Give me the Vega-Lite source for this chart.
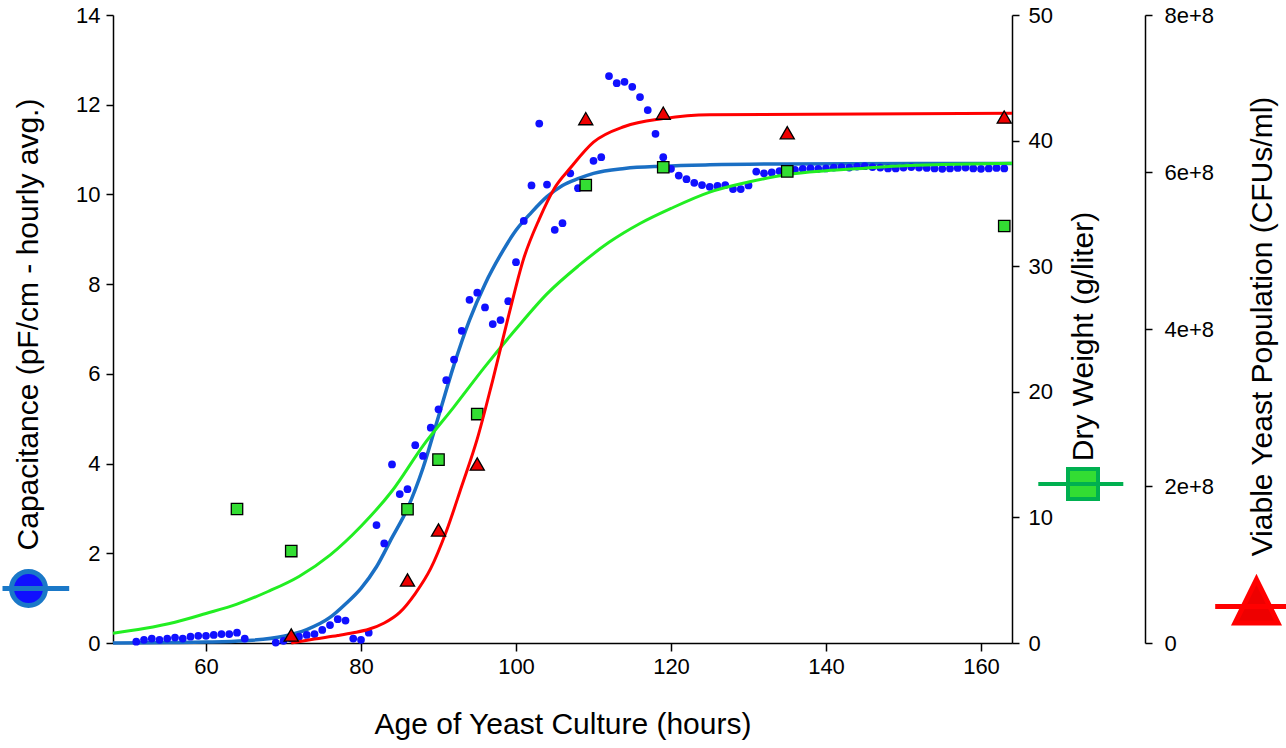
{
  "$schema": "https://vega.github.io/schema/vega-lite/v6.json",
  "width": 899,
  "height": 628,
  "autosize": "none",
  "padding": {"left": 113, "top": 15, "right": 274, "bottom": 105},
  "background": "white",
  "config": {
    "font": "Liberation Sans",
    "view": {"stroke": null},
    "axis": {
      "domainColor": "black", "domainWidth": 1.5, "tickColor": "black", "tickWidth": 1.5,
      "labelColor": "black", "titleColor": "black", "labelFontSize": 22, "titleFontSize": 30,
      "titleFontWeight": "normal", "grid": false, "labelFont": "Liberation Sans", "titleFont": "Liberation Sans"
    }
  },
  "datasets": {
    "cap": [
      {"h":51,"v":0.03},{"h":52,"v":0.07},{"h":53,"v":0.10},{"h":54,"v":0.07},{"h":55,"v":0.10},{"h":56,"v":0.12},{"h":57,"v":0.10},{"h":58,"v":0.14},{"h":59,"v":0.16},{"h":60,"v":0.16},{"h":61,"v":0.18},{"h":62,"v":0.20},{"h":63,"v":0.20},{"h":64,"v":0.23},{"h":65,"v":0.10},
      {"h":69,"v":0.01},{"h":70,"v":0.05},{"h":71,"v":0.10},{"h":72,"v":0.14},{"h":73,"v":0.18},{"h":74,"v":0.20},{"h":75,"v":0.29},{"h":76,"v":0.40},{"h":77,"v":0.53},{"h":78,"v":0.50},{"h":79,"v":0.10},{"h":80,"v":0.07},{"h":81,"v":0.23},
      {"h":82,"v":2.63},{"h":83,"v":2.22},{"h":84,"v":3.98},{"h":85,"v":3.32},{"h":86,"v":3.43},{"h":87,"v":4.41},{"h":88,"v":4.17},{"h":89,"v":4.80},{"h":90,"v":5.21},{"h":91,"v":5.86},{"h":92,"v":6.32},{"h":93,"v":6.96},{"h":94,"v":7.65},{"h":95,"v":7.81},{"h":96,"v":7.48},{"h":97,"v":7.11},{"h":98,"v":7.20},{"h":99,"v":7.62},{"h":100,"v":8.49},
      {"h":101,"v":9.41},{"h":102,"v":10.20},{"h":103,"v":11.58},{"h":104,"v":10.22},{"h":105,"v":9.21},{"h":106,"v":9.36},{"h":107,"v":10.47},{"h":108,"v":10.14},{"h":110,"v":10.75},{"h":111,"v":10.83},{"h":112,"v":12.64},{"h":113,"v":12.48},{"h":114,"v":12.51},{"h":115,"v":12.40},{"h":116,"v":12.17},{"h":117,"v":11.88},{"h":118,"v":11.35},{"h":119,"v":10.83},{"h":120,"v":10.57},
      {"h":121,"v":10.42},{"h":122,"v":10.34},{"h":123,"v":10.26},{"h":124,"v":10.21},{"h":125,"v":10.17},{"h":126,"v":10.19},{"h":127,"v":10.21},{"h":128,"v":10.12},{"h":129,"v":10.12},{"h":130,"v":10.20},{"h":131,"v":10.51},{"h":132,"v":10.47},{"h":133,"v":10.49},{"h":134,"v":10.52},{"h":135,"v":10.53},
      {"h":136,"v":10.55},{"h":137,"v":10.57},{"h":138,"v":10.58},{"h":139,"v":10.57},{"h":140,"v":10.58},{"h":141,"v":10.60},{"h":142,"v":10.61},{"h":143,"v":10.60},{"h":144,"v":10.62},{"h":145,"v":10.63},{"h":146,"v":10.61},{"h":147,"v":10.60},{"h":148,"v":10.58},{"h":149,"v":10.58},{"h":150,"v":10.60},
      {"h":151,"v":10.61},{"h":152,"v":10.60},{"h":153,"v":10.59},{"h":154,"v":10.58},{"h":155,"v":10.57},{"h":156,"v":10.58},{"h":157,"v":10.59},{"h":158,"v":10.60},{"h":159,"v":10.58},{"h":160,"v":10.57},{"h":161,"v":10.58},{"h":162,"v":10.59},{"h":163,"v":10.58}
    ],
    "capfit": [
      {"h":48,"v":0.0},{"h":55,"v":0.01},{"h":60,"v":0.02},{"h":65,"v":0.05},{"h":70,"v":0.15},{"h":73,"v":0.3},{"h":76,"v":0.57},{"h":78,"v":0.87},{"h":80,"v":1.22},{"h":82,"v":1.7},{"h":84,"v":2.35},{"h":86,"v":3.0},{"h":88,"v":3.9},{"h":90,"v":5.05},{"h":92,"v":6.2},{"h":94,"v":7.2},{"h":96,"v":8.0},{"h":98,"v":8.65},{"h":100,"v":9.2},{"h":102,"v":9.6},{"h":104,"v":9.95},{"h":106,"v":10.2},{"h":108,"v":10.35},{"h":110,"v":10.47},{"h":114,"v":10.58},{"h":119,"v":10.63},{"h":125,"v":10.66},{"h":135,"v":10.68},{"h":164,"v":10.69}
    ],
    "dw": [
      {"h":64,"v":10.67},{"h":71,"v":7.32},{"h":86,"v":10.65},{"h":90,"v":14.6},{"h":95,"v":18.23},{"h":109,"v":36.46},{"h":119,"v":37.88},{"h":135,"v":37.55},{"h":163,"v":33.2}
    ],
    "dwfit": [
      {"h":48,"v":0.78},{"h":52,"v":1.15},{"h":56,"v":1.65},{"h":60,"v":2.35},{"h":64,"v":3.1},{"h":68,"v":4.1},{"h":72,"v":5.3},{"h":76,"v":7.0},{"h":80,"v":9.3},{"h":84,"v":12.1},{"h":88,"v":15.7},{"h":92,"v":18.8},{"h":96,"v":22.0},{"h":100,"v":25.0},{"h":104,"v":27.8},{"h":108,"v":30.0},{"h":112,"v":31.9},{"h":116,"v":33.4},{"h":120,"v":34.6},{"h":125,"v":35.9},{"h":130,"v":36.7},{"h":135,"v":37.3},{"h":140,"v":37.6},{"h":145,"v":37.8},{"h":150,"v":38.0},{"h":155,"v":38.1},{"h":164,"v":38.2}
    ],
    "via": [
      {"h":71,"v":10200000},{"h":86,"v":80300000},{"h":90,"v":144000000},{"h":95,"v":228000000},{"h":109,"v":668000000},{"h":119,"v":675000000},{"h":135,"v":650000000},{"h":163,"v":670000000}
    ],
    "viafit": [
      {"h":71,"v":0},{"h":74,"v":5000000},{"h":77,"v":9500000},{"h":79,"v":13000000},{"h":81,"v":17500000},{"h":83,"v":25500000},{"h":85,"v":39000000},{"h":87,"v":63000000},{"h":89,"v":95000000},{"h":91,"v":142000000},{"h":93,"v":200000000},{"h":95,"v":260000000},{"h":97,"v":335000000},{"h":99,"v":415000000},{"h":101,"v":490000000},{"h":103,"v":540000000},{"h":105,"v":580000000},{"h":107,"v":605000000},{"h":110,"v":638000000},{"h":114,"v":658000000},{"h":119,"v":668000000},{"h":125,"v":673000000},{"h":164,"v":675000000}
    ]
  },
  "encoding": {
    "x": {
      "field": "h", "type": "quantitative",
      "scale": {"domain": [48, 164], "nice": false, "zero": false},
      "axis": {"values": [60, 80, 100, 120, 140, 160], "tickSize": 8, "labelPadding": 5, "title": "Age of Yeast Culture (hours)", "titlePadding": 32}
    }
  },
  "layer": [
    {
      "encoding": {
        "y": {
          "field": "v", "type": "quantitative",
          "scale": {"domain": [0, 14], "nice": false, "zero": false},
          "axis": {"orient": "left", "values": [0, 2, 4, 6, 8, 10, 12, 14], "tickSize": 7, "labelPadding": 6, "title": "Capacitance (pF/cm - hourly avg.)", "titlePadding": 32, "titleY": 309}
        }
      },
      "layer": [
        {"data": {"name": "capfit"}, "mark": {"type": "line", "color": "#1a6fc4", "strokeWidth": 3.5, "interpolate": "monotone"}},
        {
          "data": {"name": "cap"},
          "mark": {"type": "point", "filled": true, "size": 60, "shape": "circle", "opacity": 1},
          "encoding": {
            "fill": {
              "datum": "Capacitance", "type": "nominal",
              "scale": {"range": ["#1010ff"]},
              "legend": {
                "orient": "none", "legendX": -97, "legendY": 561, "title": null, "labelExpr": "''", "padding": 0,
                "symbolType": "M-2.6,0L4.07,0M1.7,0A1.7,1.7,0,1,1,-1.7,0A1.7,1.7,0,1,1,1.7,0Z",
                "symbolSize": 400, "symbolStrokeColor": "#1a78c8", "symbolStrokeWidth": 5
              }
            }
          }
        }
      ]
    },
    {
      "encoding": {
        "y": {
          "field": "v", "type": "quantitative",
          "scale": {"domain": [0, 50], "nice": false, "zero": false},
          "axis": {"orient": "right", "values": [0, 10, 20, 30, 40, 50], "tickSize": 7, "labelPadding": 9, "title": "Dry Weight (g/liter)", "titleAngle": -90, "titleBaseline": "top", "titlePadding": 16, "titleY": 321}
        }
      },
      "layer": [
        {"data": {"name": "dwfit"}, "mark": {"type": "line", "color": "#22ee22", "strokeWidth": 3, "interpolate": "monotone"}},
        {
          "data": {"name": "dw"},
          "mark": {"type": "point", "filled": true, "size": 130, "shape": "square", "opacity": 1, "stroke": "black", "strokeWidth": 1.3},
          "encoding": {
            "fill": {
              "datum": "Dry Weight", "type": "nominal",
              "scale": {"range": ["#33dd33"]},
              "legend": {
                "orient": "none", "legendX": 958, "legendY": 457, "title": null, "labelExpr": "''", "padding": 0,
                "symbolType": "M-4.47,0L4.03,0M-1.5,-1.5L1.5,-1.5L1.5,1.5L-1.5,1.5Z",
                "symbolSize": 400, "symbolStrokeColor": "#00b050", "symbolStrokeWidth": 4
              }
            }
          }
        }
      ]
    },
    {
      "encoding": {
        "y": {
          "field": "v", "type": "quantitative",
          "scale": {"domain": [0, 800000000], "nice": false, "zero": false},
          "axis": {"orient": "right", "offset": 133, "values": [0, 200000000, 400000000, 600000000, 800000000], "labelExpr": "datum.value == 0 ? '0' : format(datum.value, '.0e')", "tickSize": 7, "labelPadding": 12, "title": "Viable Yeast Population (CFUs/ml)", "titleAngle": -90, "titleBaseline": "top", "titlePadding": 34, "titleY": 311}
        }
      },
      "layer": [
        {"data": {"name": "viafit"}, "mark": {"type": "line", "color": "#ff0000", "strokeWidth": 3, "interpolate": "monotone"}},
        {
          "data": {"name": "via"},
          "mark": {"type": "point", "filled": true, "size": 200, "shape": "triangle-up", "opacity": 1, "stroke": "black", "strokeWidth": 1.3},
          "encoding": {
            "fill": {
              "datum": "Viable", "type": "nominal",
              "scale": {"range": ["#ee0000"]},
              "legend": {
                "orient": "none", "legendX": 1131, "legendY": 579, "title": null, "labelExpr": "''", "padding": 0,
                "symbolType": "M-4.13,0L3.6,0M0,-2.7L2.15,1.65L-2.15,1.65Z",
                "symbolSize": 400, "symbolStrokeColor": "#ff0000", "symbolStrokeWidth": 5
              }
            }
          }
        }
      ]
    }
  ],
  "resolve": {"scale": {"y": "independent", "fill": "independent"}, "legend": {"fill": "independent"}}
}
